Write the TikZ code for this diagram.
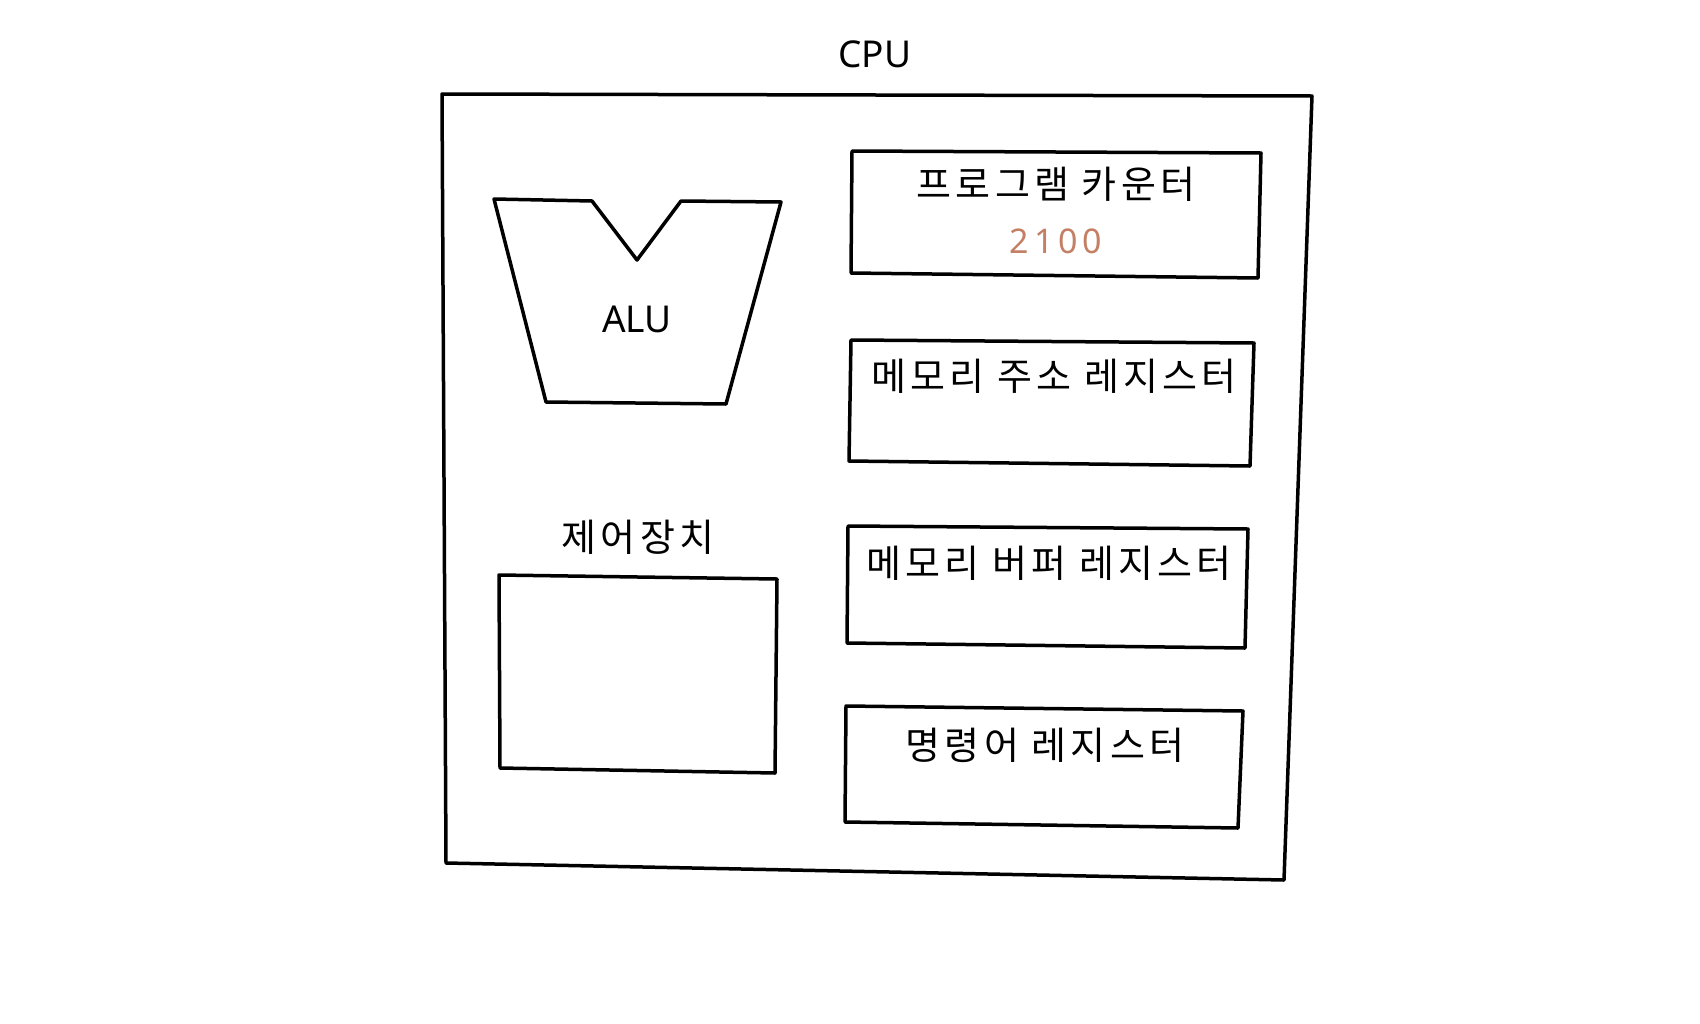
\documentclass[tikz,border=0pt]{standalone}
\usepackage{fontspec}
\setmainfont{Noto Sans}
\newfontfamily\kr[LetterSpace=11]{Noto Sans CJK KR}
\definecolor{numcol}{RGB}{196,128,100}
\tikzset{
  box/.style={draw=black, line width=3.5pt, line join=round},
  krlabel/.style={font=\kr\fontsize{38}{42}\selectfont, inner sep=0pt},
  latlabel/.style={font=\fontsize{37}{42}\selectfont, inner sep=0pt},
}
\begin{document}
\begin{tikzpicture}[x=1pt,y=-1pt]
\useasboundingbox[fill=white] (0,0) rectangle (1700,1023);
% outer CPU box
\draw[box] (442,94) -- (1312,96) -- (1284,880) -- (446,863) -- cycle;
\node[latlabel] (cpu) at (875,54) {CPU};
% ALU
\draw[box] (494,199) -- (592,201) -- (637,260) -- (681,201) -- (781,202) -- (726,404) -- (546,402) -- cycle;
\node[latlabel] (alu) at (637,319) {ALU};
% control unit
\node[krlabel] (cu) at (638,537) {제어장치};
\draw[box] (499,575) -- (777,579) -- (775,773) -- (500,768) -- cycle;
% program counter
\draw[box] (852,151) -- (1261,153) -- (1258,278) -- (851,273) -- cycle;
\node[krlabel] (pc) at (1056,184) {프로그램 카운터};
\node[font=\fontsize{34}{40}\selectfont\addfontfeature{LetterSpace=14}, text=numcol, inner sep=0pt] (pcv) at (1056,241) {2100};
% memory address register
\draw[box] (851,340) -- (1254,343) -- (1250,466) -- (849,461) -- cycle;
\node[krlabel] (mar) at (1054,376) {메모리 주소 레지스터};
% memory buffer register
\draw[box] (848,526) -- (1248,529) -- (1245,648) -- (847,643) -- cycle;
\node[krlabel] (mbr) at (1049,563) {메모리 버퍼 레지스터};
% instruction register
\draw[box] (846,706) -- (1243,711) -- (1238,828) -- (845,822) -- cycle;
\node[krlabel] (ir) at (1045,745) {명령어 레지스터};
\end{tikzpicture}
\end{document}
